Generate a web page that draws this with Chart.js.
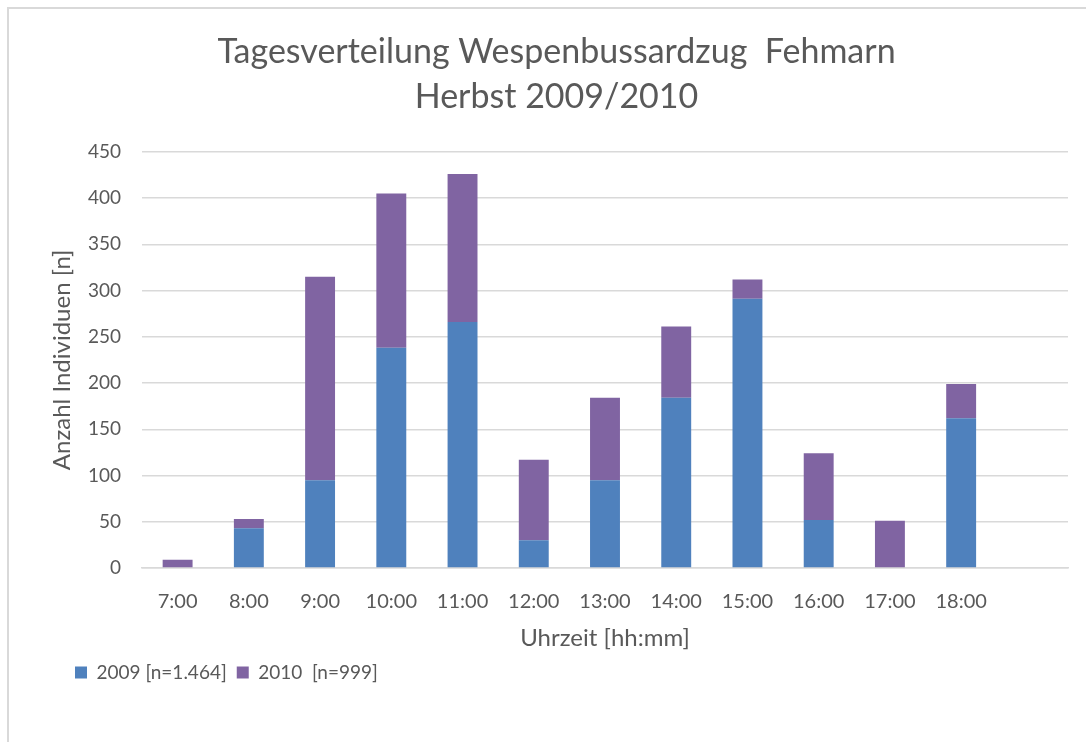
<!DOCTYPE html>
<html>
<head>
<meta charset="utf-8">
<script src="https://cdn.jsdelivr.net/npm/chart.js@4.4.1/dist/chart.umd.min.js"></script>
<style>
    html, body { margin: 0; padding: 0; background: #fff; overflow: hidden; }
    #wrap { position: relative; width: 1086px; height: 742px; }
    #frame { position: absolute; left: 7px; top: 7px; width: 1100px; height: 760px;
             border: 2px solid #d9d9d9; }
    #cv { position: absolute; left: 0; top: 0; }
</style>
</head>
<body>
<div id="wrap">
    <div id="frame"></div>
    <canvas id="cv" width="1086" height="742"></canvas>
</div>
<script>
// DATA
const hours = ['7:00','8:00','9:00','10:00','11:00','12:00','13:00','14:00','15:00','16:00','17:00','18:00',''];
const birds2009 = [0,43,95,238,266,30,95,184,291,52,0,162];
const birds2010 = [9,10,220,167,160,87,89,77,21,72,51,37];
const yTicks = [0,50,100,150,200,250,300,350,400,450];

const grey = '#595959';
const fontFam = 'Lato, "Open Sans", sans-serif';

// move legend a bit to the right
const legendShift = {
    id: 'legendShift',
    afterLayout(chart) {
        chart.legend.left += 20;
        chart.legend.right += 20;
    }
};

new Chart(document.getElementById('cv'), {
    type: 'bar',
    data: {
        labels: hours,
        datasets: [{
            label: '2009 [n=1.464]',
            data: birds2009,
            backgroundColor: '#4f81bd',
            barPercentage: 0.42,
            categoryPercentage: 1
        }, {
            label: '2010  [n=999]',
            data: birds2010,
            backgroundColor: '#8064a2',
            barPercentage: 0.42,
            categoryPercentage: 1
        }]
    },
    options: {
        responsive: false,
        animation: false,
        layout: { padding: { left: 45, right: 18, top: 30, bottom: 50 } },
        plugins: {
            title: {
                display: true,
                text: ['Tagesverteilung Wespenbussardzug  Fehmarn', 'Herbst 2009/2010'],
                color: grey,
                font: { family: fontFam, size: 34, weight: 'normal', lineHeight: 1.32 },
                padding: { top: 0, bottom: 32 }
            },
            legend: {
                position: 'bottom',
                align: 'start',
                labels: {
                    color: grey,
                    boxWidth: 12,
                    boxHeight: 12,
                    padding: 10,
                    font: { family: fontFam, size: 19 }
                }
            },
            tooltip: { enabled: false }
        },
        scales: {
            x: {
                stacked: true,
                grid: { display: false, drawTicks: false },
                border: { display: true, color: '#d9d9d9', width: 1.5 },
                ticks: { color: grey, padding: 22, font: { family: fontFam, size: 20 }, maxRotation: 0, autoSkip: false },
                title: {
                    display: true,
                    text: 'Uhrzeit [hh:mm]',
                    color: grey,
                    font: { family: fontFam, size: 24 },
                    padding: 0
                },
                afterFit(scale) { scale.height = 85; }
            },
            y: {
                stacked: true,
                min: 0,
                max: 450,
                afterBuildTicks(scale) { scale.ticks = yTicks.map(v => ({ value: v })); },
                grid: { color: '#d9d9d9', lineWidth: 1.5, drawTicks: false },
                border: { display: false },
                ticks: { color: grey, padding: 21, font: { family: fontFam, size: 19 } },
                title: {
                    display: true,
                    text: 'Anzahl Individuen [n]',
                    color: grey,
                    font: { family: fontFam, size: 24 },
                    padding: { top: 3, bottom: 0 }
                },
                afterFit(scale) { scale.width = 97; }
            }
        }
    },
    plugins: [legendShift]
});
</script>
</body>
</html>
